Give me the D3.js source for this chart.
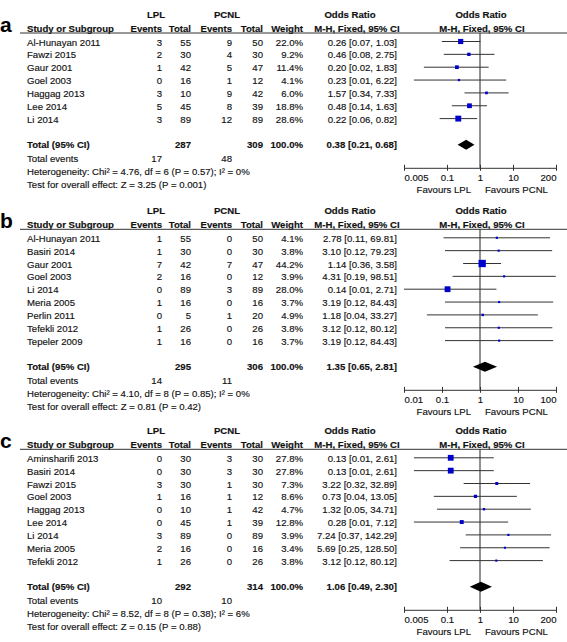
<!DOCTYPE html>
<html><head><meta charset="utf-8">
<script src="https://cdn.jsdelivr.net/npm/d3@7"></script>
<style>
body{margin:0;background:#fff}
text{font-family:"Liberation Sans",Arial,Helvetica,sans-serif;fill:#111;stroke:#111;stroke-width:0.15px}
</style>
</head><body>
<svg id="chart" width="567" height="642"></svg>
<script>
// ---------- Panel a ----------
const studiesA = ["Al-Hunayan 2011","Fawzi 2015","Gaur 2001","Goel 2003","Haggag 2013","Lee 2014","Li 2014"];
const lplEventsA = [3,2,1,0,3,5,3];
const lplTotalA  = [55,30,42,16,10,45,89];
const pcnlEventsA = [9,4,5,1,9,8,12];
const pcnlTotalA  = [50,30,47,12,42,39,89];
const weightA = [22.0,9.2,11.4,4.1,6.0,18.8,28.6];
const orA    = [0.26,0.46,0.20,0.23,1.57,0.48,0.22];
const lowerA = [0.07,0.08,0.02,0.01,0.34,0.14,0.06];
const upperA = [1.03,2.75,1.83,6.22,7.33,1.63,0.82];
const totalA = {lplTotal:287, pcnlTotal:309, or:0.38, lower:0.21, upper:0.68, lplEvents:17, pcnlEvents:48};
const hetA = "Heterogeneity: Chi² = 4.76, df = 6 (P = 0.57); I² = 0%";
const testA = "Test for overall effect: Z = 3.25 (P = 0.001)";
const ticksA = [0.005,0.1,1,10,200];
const tickLabelsA = ["0.005","0.1","1","10","200"];

// ---------- Panel b ----------
const studiesB = ["Al-Hunayan 2011","Basiri 2014","Gaur 2001","Goel 2003","Li 2014","Meria 2005","Perlin 2011","Tefekli 2012","Tepeler 2009"];
const lplEventsB = [1,1,7,2,0,1,0,1,1];
const lplTotalB  = [55,30,42,16,89,16,5,26,16];
const pcnlEventsB = [0,0,7,0,3,0,1,0,0];
const pcnlTotalB  = [50,30,47,12,89,16,20,26,16];
const weightB = [4.1,3.8,44.2,3.9,28.0,3.7,4.9,3.8,3.7];
const orB    = [2.78,3.10,1.14,4.31,0.14,3.19,1.18,3.12,3.19];
const lowerB = [0.11,0.12,0.36,0.19,0.01,0.12,0.04,0.12,0.12];
const upperB = [69.81,79.23,3.58,98.51,2.71,84.43,33.27,80.12,84.43];
const totalB = {lplTotal:295, pcnlTotal:306, or:1.35, lower:0.65, upper:2.81, lplEvents:14, pcnlEvents:11};
const hetB = "Heterogeneity: Chi² = 4.10, df = 8 (P = 0.85); I² = 0%";
const testB = "Test for overall effect: Z = 0.81 (P = 0.42)";
const ticksB = [0.01,0.1,1,10,100];
const tickLabelsB = ["0.01","0.1","1","10","100"];

// ---------- Panel c ----------
const studiesC = ["Aminsharifi 2013","Basiri 2014","Fawzi 2015","Goel 2003","Haggag 2013","Lee 2014","Li 2014","Meria 2005","Tefekli 2012"];
const lplEventsC = [0,0,3,1,0,0,3,2,1];
const lplTotalC  = [30,30,30,16,10,45,89,16,26];
const pcnlEventsC = [3,3,1,1,1,1,0,0,0];
const pcnlTotalC  = [30,30,30,12,42,39,89,16,26];
const weightC = [27.8,27.8,7.3,8.6,4.7,12.8,3.9,3.4,3.8];
const orC    = [0.13,0.13,3.22,0.73,1.32,0.28,7.24,5.69,3.12];
const lowerC = [0.01,0.01,0.32,0.04,0.05,0.01,0.37,0.25,0.12];
const upperC = [2.61,2.61,32.89,13.05,34.71,7.12,142.29,128.50,80.12];
const totalC = {lplTotal:292, pcnlTotal:314, or:1.06, lower:0.49, upper:2.30, lplEvents:10, pcnlEvents:10};
const hetC = "Heterogeneity: Chi² = 8.52, df = 8 (P = 0.38); I² = 6%";
const testC = "Test for overall effect: Z = 0.15 (P = 0.88)";
const ticksC = [0.005,0.1,1,10,200];
const tickLabelsC = ["0.005","0.1","1","10","200"];

const panels = [
  {label:"a", top:42, studies:studiesA, le:lplEventsA, lt:lplTotalA, pe:pcnlEventsA, pt:pcnlTotalA, w:weightA, or:orA, lo:lowerA, up:upperA, tot:totalA, het:hetA, test:testA, ticks:ticksA, tickLabels:tickLabelsA},
  {label:"b", top:238.3, studies:studiesB, le:lplEventsB, lt:lplTotalB, pe:pcnlEventsB, pt:pcnlTotalB, w:weightB, or:orB, lo:lowerB, up:upperB, tot:totalB, het:hetB, test:testB, ticks:ticksB, tickLabels:tickLabelsB},
  {label:"c", top:458.3, studies:studiesC, le:lplEventsC, lt:lplTotalC, pe:pcnlEventsC, pt:pcnlTotalC, w:weightC, or:orC, lo:lowerC, up:upperC, tot:totalC, het:hetC, test:testC, ticks:ticksC, tickLabels:tickLabelsC}
];

const svg = d3.select("#chart");
const FS = 9.6;
const ROW = 12.85;
const col = {name:27, le:162, lt:191, pe:232, pt:263, w:303, or:397};
const plotL = 404, plotR = 556;
const fmt2 = d3.format(".2f");

function txt(g, x, y, s, anchor, bold, size) {
  return g.append("text").attr("x", x).attr("y", y)
    .attr("text-anchor", anchor || "start")
    .attr("font-size", size || FS)
    .attr("font-weight", bold ? "bold" : "normal")
    .text(s);
}

panels.forEach(p => {
  const g = svg.append("g");
  const T = p.top;
  const n = p.studies.length;
  const yRow = i => T + i * ROW;
  const x = d3.scaleLog().domain([p.ticks[0], p.ticks[p.ticks.length - 1]]).range([plotL, plotR]);

  // panel letter
  txt(g, 0, T - 10.5, p.label, "start", true, 21).style("fill", "#000").style("stroke", "none");

  // header row 1
  const h1 = T - 24;
  txt(g, 156, h1, "LPL", "middle", true);
  txt(g, 227, h1, "PCNL", "middle", true);
  txt(g, 350, h1, "Odds Ratio", "middle", true);
  txt(g, 481, h1, "Odds Ratio", "middle", true);
  // header row 2
  const h2 = T - 10.5;
  txt(g, col.name, h2, "Study or Subgroup", "start", true);
  txt(g, col.le, h2, "Events", "end", true);
  txt(g, col.lt, h2, "Total", "end", true);
  txt(g, col.pe, h2, "Events", "end", true);
  txt(g, col.pt, h2, "Total", "end", true);
  txt(g, col.w, h2, "Weight", "end", true);
  txt(g, 357, h2, "M-H, Fixed, 95% CI", "middle", true);
  txt(g, 482, h2, "M-H, Fixed, 95% CI", "middle", true);
  g.append("line").attr("x1", 20).attr("x2", 567).attr("y1", T - 9).attr("y2", T - 9)
    .attr("stroke", "#333").attr("stroke-width", 1);

  // study rows
  p.studies.forEach((s, i) => {
    const yb = yRow(i) + 3.5;
    txt(g, col.name, yb, s);
    txt(g, col.le, yb, p.le[i], "end");
    txt(g, col.lt, yb, p.lt[i], "end");
    txt(g, col.pe, yb, p.pe[i], "end");
    txt(g, col.pt, yb, p.pt[i], "end");
    txt(g, col.w, yb, d3.format(".1f")(p.w[i]) + "%", "end");
    txt(g, col.or, yb, `${fmt2(p.or[i])} [${fmt2(p.lo[i])}, ${fmt2(p.up[i])}]`, "end");
  });

  const totalY = T + (n + 1) * ROW;
  const axisY = totalY + 23;

  // vertical line of no effect
  g.append("line").attr("x1", x(1)).attr("x2", x(1)).attr("y1", T - 9).attr("y2", axisY)
    .attr("stroke", "#222").attr("stroke-width", 1);

  // CI lines and squares
  p.studies.forEach((s, i) => {
    const yc = yRow(i) - 0.5;
    g.append("line").attr("x1", x(p.lo[i])).attr("x2", x(p.up[i])).attr("y1", yc).attr("y2", yc)
      .attr("stroke", "#333").attr("stroke-width", 1);
    const side = Math.max(2, 1.1 * Math.sqrt(p.w[i]));
    g.append("rect").attr("x", x(p.or[i]) - side / 2).attr("y", yc - side / 2)
      .attr("width", side).attr("height", side).attr("fill", "#0000cc");
  });

  // total row
  const tb = totalY + 3.5;
  txt(g, col.name, tb, "Total (95% CI)", "start", true);
  txt(g, col.lt, tb, p.tot.lplTotal, "end", true);
  txt(g, col.pt, tb, p.tot.pcnlTotal, "end", true);
  txt(g, col.w, tb, "100.0%", "end", true);
  txt(g, col.or, tb, `${fmt2(p.tot.or)} [${fmt2(p.tot.lower)}, ${fmt2(p.tot.upper)}]`, "end", true);
  // diamond
  const dh = 5;
  g.append("path").attr("d", `M${x(p.tot.lower)},${totalY} L${x(p.tot.or)},${totalY - dh} L${x(p.tot.upper)},${totalY} L${x(p.tot.or)},${totalY + dh} Z`)
    .attr("fill", "#000");

  const eb = totalY + 13.3 + 3.5;
  txt(g, col.name, eb, "Total events");
  txt(g, col.le, eb, p.tot.lplEvents, "end");
  txt(g, col.pe, eb, p.tot.pcnlEvents, "end");
  txt(g, col.name, totalY + 26.6 + 3.5, p.het);
  txt(g, col.name, totalY + 39.9 + 3.5, p.test);

  // axis
  const axis = d3.axisBottom(x).tickValues(p.ticks)
    .tickFormat((d, i) => p.tickLabels[i]).tickSizeInner(3).tickSizeOuter(0).tickPadding(4);
  const ag = g.append("g").attr("transform", `translate(0,${axisY})`).call(axis);
  ag.select(".domain").attr("stroke", "#333");
  ag.selectAll(".tick line").attr("y1", -3).attr("y2", 3).attr("stroke", "#333");
  ag.selectAll(".tick text")
    .attr("font-family", '"Liberation Sans",Arial,Helvetica,sans-serif')
    .attr("font-size", FS).attr("fill", "#111")
    .attr("dy", null).attr("y", 13.5)
    .attr("text-anchor", (d, i) => i === 0 ? "start" : (i === p.ticks.length - 1 ? "end" : "middle"));
  txt(g, 471, axisY + 25.5, "Favours LPL", "end");
  txt(g, 485, axisY + 25.5, "Favours PCNL", "start");
});
</script>
</body></html>
